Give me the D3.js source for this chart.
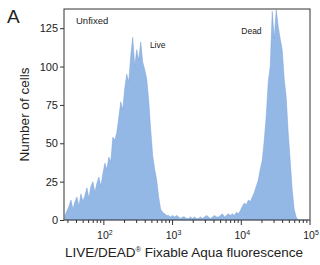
<!DOCTYPE html>
<html>
<head>
<meta charset="utf-8">
<script src="https://cdnjs.cloudflare.com/ajax/libs/d3/7.8.5/d3.min.js"></script>
<style>
    body { margin: 0; background: #fff; font-family: "Liberation Sans", Arial, Helvetica, sans-serif; }
    svg text { fill: #222; }
</style>
</head>
<body>
<svg id="chart" width="320" height="265"></svg>
<script>
    // histogram bins, log10 fluorescence
    var binStart = 1.42;
    var binStep = 0.029;
    var counts = [
        3, 6, 9, 13, 7, 12, 15, 9, 17, 12, 16, 21, 14, 22, 25, 18, 24, 28, 22, 30,
        37, 33, 41, 38, 54, 52, 57, 67, 77, 72, 86, 95, 90, 107, 119, 100, 111, 104, 116, 103,
        98, 92, 78, 59, 42, 33, 26, 15, 7, 5, 4, 3, 3, 2,
        3, 2, 3, 2, 1, 2, 2, 1, 1, 2, 1, 2, 1, 1, 2, 1, 2, 3, 2, 1,
        2, 3, 2, 2, 3, 4, 2, 3, 4, 3, 4, 3, 5, 4, 6,
        9, 11, 10, 13, 12, 15, 18, 22, 26, 33, 39, 52, 68, 90, 100, 136, 118, 137, 126, 118,
        111, 92, 80, 57, 39, 20, 7, 2, 0, 0, 0, 0, 0, 0
    ];
    var yTicks = [0, 25, 50, 75, 100, 125];
    var xDecades = [2, 3, 4, 5];
    var peakLabels = [
        { text: "Live", at: 2.67, n: 112 },
        { text: "Dead", at: 4.0, n: 121 }
    ];

    var svg = d3.select("#chart");
    var m = { left: 64, top: 9, right: 310, bottom: 220 };

    var x = d3.scaleLinear().domain([1.42, 5.0]).range([m.left, m.right]);
    var y = d3.scaleLinear().domain([0, 137.5]).range([m.bottom, m.top]);

    var bins = counts.map(function(c, i) {
        return { lx: binStart + binStep * (i + 0.5), n: c };
    });

    var area = d3.area()
        .x(function(d) { return x(d.lx); })
        .y0(y(0))
        .y1(function(d) { return y(d.n); });

    svg.append("path")
        .datum(bins)
        .attr("d", area)
        .attr("fill", "#94b8e6")
        .attr("stroke", "#7ba0d8")
        .attr("stroke-width", 0.5);

    // frame
    svg.append("rect")
        .attr("x", m.left).attr("y", m.top)
        .attr("width", m.right - m.left).attr("height", m.bottom - m.top)
        .attr("fill", "none").attr("stroke", "#333").attr("stroke-width", 1);

    // y axis
    var yAxis = svg.append("g").attr("transform", "translate(" + m.left + ",0)")
        .call(d3.axisLeft(y).tickValues(yTicks).tickSize(4).tickPadding(2));
    yAxis.select(".domain").remove();
    yAxis.selectAll("line").attr("stroke", "#333");
    yAxis.selectAll("text").style("font-size", "11px").style("font-family", "Liberation Sans, Arial, sans-serif");

    // x axis, log decades with minor ticks
    var minor = [];
    for (var d = 1; d < 5; d++) {
        for (var k = 2; k < 10; k++) {
            var v = d + Math.log10(k);
            if (v >= 1.42) minor.push(v);
        }
    }
    var gx = svg.append("g").attr("transform", "translate(0," + m.bottom + ")");
    gx.selectAll("line.minor").data(minor).enter().append("line")
        .attr("x1", function(v) { return x(v); }).attr("x2", function(v) { return x(v); })
        .attr("y1", 0).attr("y2", 3).attr("stroke", "#333");
    gx.selectAll("line.major").data(xDecades).enter().append("line")
        .attr("x1", function(v) { return x(v); }).attr("x2", function(v) { return x(v); })
        .attr("y1", 0).attr("y2", 5).attr("stroke", "#333");
    var lab = gx.selectAll("text").data(xDecades).enter().append("text")
        .attr("x", function(v) { return x(v) + 1; })
        .attr("y", 19)
        .attr("text-anchor", "middle")
        .style("font-size", "10.5px");
    lab.append("tspan").text("10");
    lab.append("tspan").attr("dy", -4).style("font-size", "7px").text(function(v) { return v; });

    // text
    svg.append("text").attr("x", 7).attr("y", 23).style("font-size", "19px").text("A");
    svg.append("text").attr("x", 76).attr("y", 24).style("font-size", "9.5px").text("Unfixed");
    svg.selectAll("text.peak").data(peakLabels).enter().append("text")
        .attr("class", "peak")
        .attr("x", function(d) { return x(d.at); })
        .attr("y", function(d) { return y(d.n); })
        .style("font-size", "8.5px")
        .text(function(d) { return d.text; });

    svg.append("text")
        .attr("transform", "translate(29," + ((m.top + m.bottom) / 2) + ") rotate(-90)")
        .attr("text-anchor", "middle")
        .style("font-size", "13.5px")
        .text("Number of cells");
    svg.append("text")
        .attr("x", (m.left + m.right) / 2 - 3)
        .attr("y", 257)
        .attr("text-anchor", "middle")
        .style("font-size", "13.5px")
        .html("LIVE/DEAD<tspan dy='-5' font-size='7.5px'>®</tspan><tspan dy='5'> Fixable Aqua fluorescence</tspan>");
</script>
</body>
</html>
